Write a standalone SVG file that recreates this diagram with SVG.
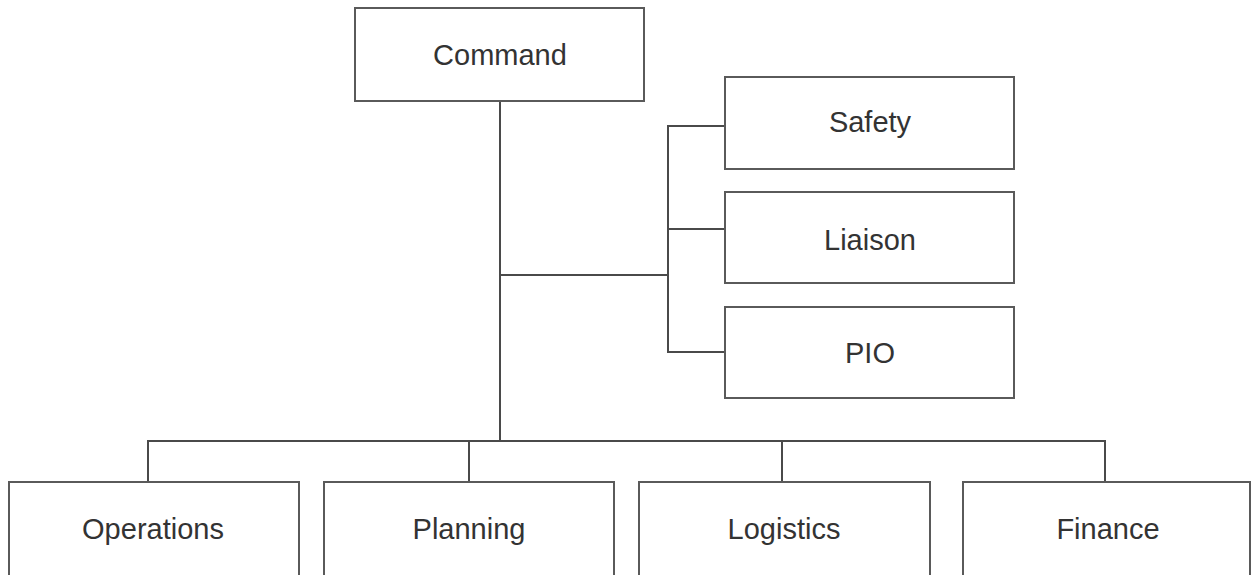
<svg xmlns="http://www.w3.org/2000/svg" width="1252" height="575" viewBox="0 0 1252 575">
<style>
.box{fill:#fff;stroke:#5a5a5a;stroke-width:2}
.lbl{font-family:"Liberation Sans","DejaVu Sans",sans-serif;font-size:29px;fill:#333;text-anchor:middle}
.ln{fill:none;stroke:#4a4a4a;stroke-width:2}
</style>
<rect width="1252" height="575" fill="#fff"/>
<g id="connectors">
<path class="ln" d="M500,101 V441"/>
<path class="ln" d="M500,275 H668"/>
<path class="ln" d="M725,126 H668 V352 H725"/>
<path class="ln" d="M668,229 H725"/>
<path class="ln" d="M148,482 V441 H1105 V482"/>
<path class="ln" d="M469,441 V482"/>
<path class="ln" d="M782,441 V482"/>
</g>
<g id="command"><rect class="box" x="355" y="8" width="289" height="93"/><text class="lbl" x="500" y="65">Command</text></g>
<g id="safety"><rect class="box" x="725" y="77" width="289" height="92"/><text class="lbl" x="870" y="132">Safety</text></g>
<g id="liaison"><rect class="box" x="725" y="192" width="289" height="91"/><text class="lbl" x="870" y="250">Liaison</text></g>
<g id="pio"><rect class="box" x="725" y="307" width="289" height="91"/><text class="lbl" x="870" y="363">PIO</text></g>
<g id="operations"><rect class="box" x="9" y="482" width="290" height="100"/><text class="lbl" x="153" y="539">Operations</text></g>
<g id="planning"><rect class="box" x="324" y="482" width="290" height="100"/><text class="lbl" x="469" y="539">Planning</text></g>
<g id="logistics"><rect class="box" x="639" y="482" width="291" height="100"/><text class="lbl" x="784" y="539">Logistics</text></g>
<g id="finance"><rect class="box" x="963" y="482" width="287" height="100"/><text class="lbl" x="1108" y="539">Finance</text></g>
</svg>
